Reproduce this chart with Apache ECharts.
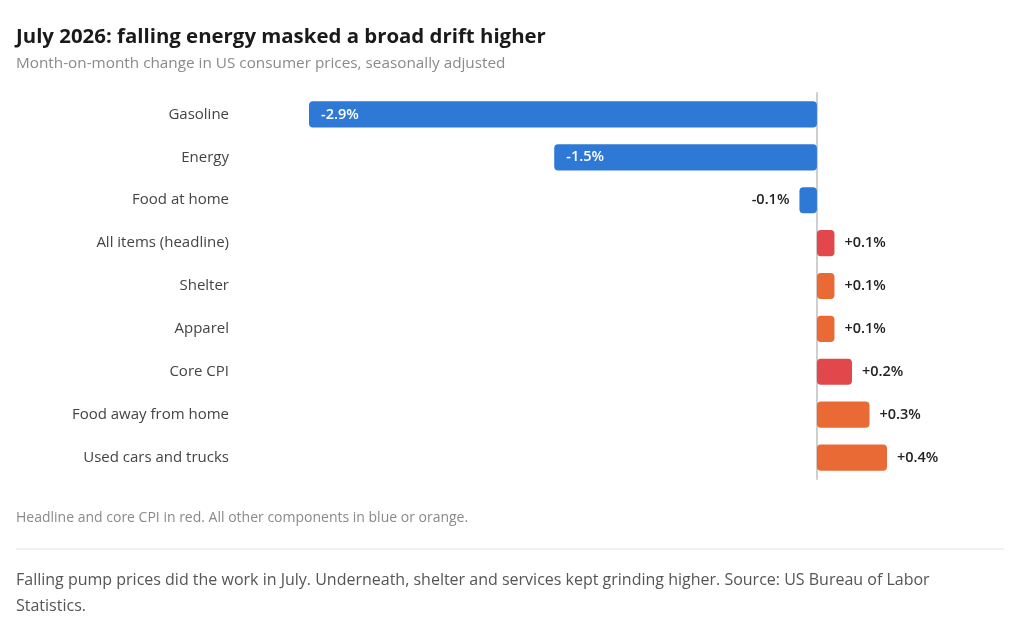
<!DOCTYPE html>
<html lang="en">
<head>
    <meta charset="UTF-8">
    <title>July 2026 CPI</title>
    <script src="https://cdn.jsdelivr.net/npm/echarts/dist/echarts.min.js"></script>
    <style>
        html, body { margin: 0; padding: 0; background: #fff; }
        #chart { width: 1024px; height: 621px; }
    </style>
</head>
<body>
<div id="chart"></div>

<script>
    // categories top to bottom, month-on-month change in %
    const categories = ['Gasoline', 'Energy', 'Food at home', 'All items (headline)', 'Shelter',
        'Apparel', 'Core CPI', 'Food away from home', 'Used cars and trucks'];
    const changes = [-2.9, -1.5, -0.1, 0.1, 0.1, 0.1, 0.2, 0.3, 0.4];
    // headline and core are red, the rest blue (down) or orange (up)
    const headline = ['All items (headline)', 'Core CPI'];

    const BLUE = '#2f79d6';
    const RED = '#e2474b';
    const ORANGE = '#e96a35';
    const FONT = '"Open Sans", "Noto Sans", sans-serif';

    const fmt = v => (v > 0 ? '+' : '') + v.toFixed(1) + '%';

    const barData = changes.map((v, i) => {
        let color = v < 0 ? BLUE : ORANGE;
        if (headline.includes(categories[i])) color = RED;
        let label;
        if (v <= -1) {
            label = { position: 'insideLeft', color: '#fff', distance: 12 };
        } else if (v < 0) {
            label = { position: 'left', color: '#222', distance: 10 };
        } else {
            label = { position: 'right', color: '#222', distance: 10 };
        }
        return { value: v, itemStyle: { color: color }, label: label };
    });

    const chart = echarts.init(document.getElementById('chart'));
    const option = {
        animation: false,
        textStyle: { fontFamily: FONT },
        title: {
            text: 'July 2026: falling energy masked a broad drift higher',
            subtext: 'Month-on-month change in US consumer prices, seasonally adjusted',
            left: 11,
            top: 22,
            itemGap: 9,
            textStyle: { fontFamily: FONT, fontSize: 20.4, fontWeight: 'bold', color: '#1a1a1a' },
            subtextStyle: { fontFamily: FONT, fontSize: 15.3, color: '#8a8a8a' }
        },
        grid: { left: 309, right: 137, top: 93, bottom: 142, containLabel: false },
        xAxis: {
            type: 'value',
            min: -2.9,
            max: 0.4,
            show: false
        },
        yAxis: {
            type: 'category',
            data: categories,
            inverse: true,
            axisTick: { show: false },
            axisLine: { show: true, lineStyle: { color: '#cfcfcf', width: 2 } },
            axisLabel: { margin: 80, color: '#444', fontSize: 15, fontFamily: FONT }
        },
        series: [{
            type: 'bar',
            data: barData,
            barWidth: '61%',
            itemStyle: { borderRadius: 4 },
            label: {
                show: true,
                fontSize: 14.5,
                fontWeight: 600,
                fontFamily: FONT,
                formatter: p => fmt(p.value)
            }
        }],
        graphic: [
            {
                type: 'text', left: 16, top: 511,
                style: {
                    text: 'Headline and core CPI in red. All other components in blue or orange.',
                    fill: '#8a8a8a', fontSize: 14, fontFamily: FONT
                }
            },
            {
                type: 'line',
                shape: { x1: 16, y1: 549, x2: 1004, y2: 549 },
                style: { stroke: '#e2e2e2', lineWidth: 1 }
            },
            {
                type: 'text', left: 16, top: 567,
                style: {
                    text: 'Falling pump prices did the work in July. Underneath, shelter and services kept grinding higher. Source: US Bureau of Labor Statistics.',
                    width: 940, overflow: 'break', lineHeight: 26,
                    fill: '#555', fontSize: 16, fontFamily: FONT
                }
            }
        ]
    };
    chart.setOption(option);
</script>
</body>
</html>
